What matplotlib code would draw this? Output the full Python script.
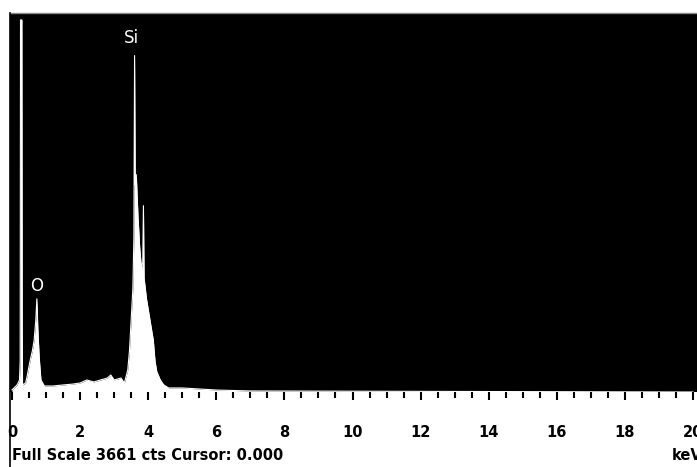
import matplotlib
matplotlib.use("Agg")
import matplotlib.pyplot as plt
from matplotlib.lines import Line2D

# Spectrum (energy in keV, counts)
energy = [0.00, 0.15, 0.22, 0.24, 0.25, 0.29, 0.30, 0.31, 0.40, 0.45, 0.50, 0.55,
          0.60, 0.65, 0.70, 0.73, 0.76, 0.80, 0.85, 0.95, 1.20, 1.50, 1.80, 2.00,
          2.20, 2.40, 2.60, 2.80, 2.90, 3.00, 3.20, 3.30, 3.40, 3.45, 3.50, 3.55,
          3.58, 3.60, 3.62, 3.65, 3.70, 3.75, 3.80, 3.84, 3.86, 3.88, 3.95, 4.00,
          4.10, 4.15, 4.20, 4.25, 4.35, 4.45, 4.60, 5.00, 5.50, 6.00, 7.00, 20.0]
counts = [20, 68, 116, 300, 3594, 3594, 600, 68, 87, 160, 250, 330,
          400, 500, 700, 900, 600, 330, 116, 58, 58, 68, 77, 87,
          116, 97, 116, 135, 164, 116, 135, 87, 213, 400, 700, 1000,
          1500, 3250, 2000, 2100, 1700, 1400, 1200, 1250, 1800, 1100, 900, 800,
          600, 500, 300, 200, 120, 70, 39, 39, 29, 19, 10, 0]

peak_labels = ["O", "Si"]
peak_energy = [0.73, 3.50]
peak_counts = [940, 3330]

xticks = [0, 2, 4, 6, 8, 10, 12, 14, 16, 18, 20]
full_scale = 3661

W, H = 697, 467
fig = plt.figure(figsize=(W / 100, H / 100), dpi=100)
fig.patch.set_facecolor("white")
left, right, top, bottom = 10, 697, 13, 392
ax = fig.add_axes([left / W, 1 - bottom / H, (right - left) / W, (bottom - top) / H])
ax.set_facecolor("black")

x0_px, x20_px = 12, 693
ppk = (x20_px - x0_px) / 20.0
ax.set_xlim((left - x0_px) / ppk, (right - x0_px) / ppk)
ax.set_ylim(0, 3661)

ax.fill_between(energy, counts, 0, color="white", linewidth=0)
ax.plot(energy, counts, color="white", linewidth=0.8)

for lab, e, c in zip(peak_labels, peak_energy, peak_counts):
    ax.text(e, c, lab, color="white", fontsize=12, ha="center", va="bottom",
            family="DejaVu Sans")

ax.set_xticks(xticks)
ax.set_xticklabels([str(t) for t in xticks], fontsize=10.5, fontweight="bold",
                   family="Liberation Sans Narrow")
ax.set_xticks([i * 0.5 for i in range(41)], minor=True)
ax.tick_params(axis="x", which="major", direction="out", length=6, width=1.5,
               color="black", pad=18)
ax.tick_params(axis="x", which="minor", direction="out", length=4, width=1.5,
               color="black")
ax.set_yticks([])
for s in ax.spines.values():
    s.set_visible(False)
ax.spines["top"].set_visible(True)
ax.spines["top"].set_color("#888888")
ax.spines["top"].set_linewidth(1)

fig.add_artist(Line2D([left / W, left / W], [0, 1 - top / H], color="black",
                      linewidth=1.2, transform=fig.transFigure))

fig.text(12 / W, 1 - 455 / H, f"Full Scale {full_scale} cts Cursor: 0.000",
         fontsize=10.5, fontweight="bold", family="Liberation Sans Narrow",
         ha="left", va="center")
fig.text(672 / W, 1 - 455 / H, "keV", fontsize=10.5, fontweight="bold",
         family="Liberation Sans Narrow", ha="left", va="center")

fig.savefig("out.png", dpi=100, facecolor="white")
